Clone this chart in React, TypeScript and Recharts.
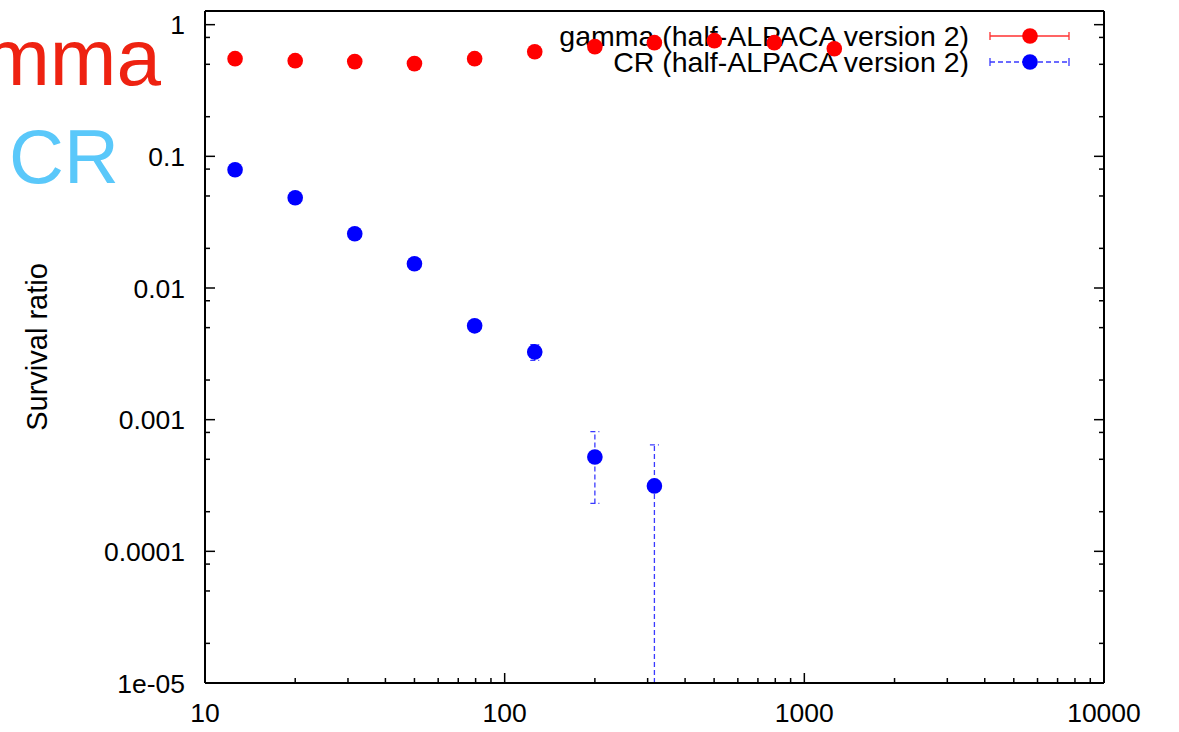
import React from 'react';
import { ScatterChart, Scatter, XAxis, YAxis, ErrorBar, Legend } from 'recharts';

// values
const gammaEnergy = [12.6, 20, 31.6, 50, 79.4, 126, 200, 316, 501, 794, 1259];
const gammaRatio = [0.552, 0.533, 0.524, 0.506, 0.552, 0.623, 0.681, 0.73, 0.756, 0.73, 0.657];

const crEnergy = [12.6, 20, 31.6, 50, 79.4, 126, 200, 316];
const crRatio = [0.0791, 0.0485, 0.0258, 0.0153, 0.00516, 0.00327, 0.000521, 0.000314];
const crError = [0.001, 0.0006, 0.0004, 0.0003, 0.0002, 0.00045, 0.00029, 0.00033];

const xMajorTicks = [10, 100, 1000, 10000];
const xMinorSteps = [2, 3, 4, 5, 6, 7, 8, 9];
const yMajorTicks = [1e-5, 1e-4, 0.001, 0.01, 0.1, 1];
const yTickLabels = ['1e-05', '0.0001', '0.001', '0.01', '0.1', '1'];
const yMinorSteps = [2, 5, 8];

const seriesNames = ['gamma (half-ALPACA version 2)', 'CR (half-ALPACA version 2)'];

const W = 1179;
const H = 732;
const PLOT_LEFT = 205;
const PLOT_RIGHT = 1104;
const PLOT_TOP = 11;
const PLOT_BOTTOM = 683;
const Y_MIN = 1e-5;
const Y_MAX = 1.27;
const FONT = '"Liberation Sans", Arial, Helvetica, sans-serif';

const xTicks = [
  ...xMajorTicks,
  ...xMajorTicks.slice(0, -1).flatMap(m => xMinorSteps.map(s => m * s)),
];
const yTicks = [
  ...yMajorTicks,
  ...yMajorTicks.flatMap(m => yMinorSteps.map(s => m * s)).filter(v => v < Y_MAX),
];

const gammaData = gammaEnergy.map((x, i) => ({ x, y: gammaRatio[i] }));
const crData = crEnergy.map((x, i) => ({
  x,
  y: crRatio[i],
  // lower end is clipped at the axis floor
  err: [Math.min(crError[i], crRatio[i] - Y_MIN), crError[i]],
}));

const MAJOR = 10;
const MINOR = 5;

function BottomTick(props: any) {
  const { x, payload } = props;
  const major = xMajorTicks.includes(payload.value);
  return (
    <g>
      <line x1={x} x2={x} y1={PLOT_BOTTOM} y2={PLOT_BOTTOM - (major ? MAJOR : MINOR)} stroke="#000" strokeWidth={1.5} />
      {major && (
        <text x={x} y={PLOT_BOTTOM + 38.5} textAnchor="middle" fontSize={26.5} fontFamily={FONT} fill="#000">
          {payload.value}
        </text>
      )}
    </g>
  );
}

function TopTick(props: any) {
  const { x, payload } = props;
  const major = xMajorTicks.includes(payload.value);
  return <line x1={x} x2={x} y1={PLOT_TOP} y2={PLOT_TOP + (major ? MAJOR : MINOR)} stroke="#000" strokeWidth={1.5} />;
}

function LeftTick(props: any) {
  const { y, payload } = props;
  const idx = yMajorTicks.indexOf(payload.value);
  const major = idx >= 0;
  return (
    <g>
      <line x1={PLOT_LEFT} x2={PLOT_LEFT + (major ? MAJOR : MINOR)} y1={y} y2={y} stroke="#000" strokeWidth={1.5} />
      {major && (
        <text x={185} y={y + 9.5} textAnchor="end" fontSize={26.5} fontFamily={FONT} fill="#000">
          {yTickLabels[idx]}
        </text>
      )}
    </g>
  );
}

function RightTick(props: any) {
  const { y, payload } = props;
  const major = yMajorTicks.includes(payload.value);
  return <line x1={PLOT_RIGHT} x2={PLOT_RIGHT - (major ? MAJOR : MINOR)} y1={y} y2={y} stroke="#000" strokeWidth={1.5} />;
}

const Dot = (color: string) => (p: any) => <circle cx={p.cx} cy={p.cy} r={7.8} fill={color} />;

function LegendBox() {
  const rows = [
    { name: seriesNames[0], color: '#ff0000', bar: '#ff3030', dash: undefined },
    { name: seriesNames[1], color: '#0000ff', bar: '#3a3aff', dash: '5 3' },
  ];
  return (
    <svg width={560} height={56}>
      {rows.map((r, i) => {
        const cy = 15 + i * 26;
        return (
          <g key={r.name}>
            <text x={429} y={cy + 10} textAnchor="end" fontSize={28.5} fontFamily={FONT} fill="#000">
              {r.name}
            </text>
            <line x1={450} x2={529} y1={cy} y2={cy} stroke={r.bar} strokeWidth={1.3} strokeDasharray={r.dash} />
            <line x1={450} x2={450} y1={cy - 4} y2={cy + 4} stroke={r.bar} strokeWidth={1.3} />
            <line x1={529} x2={529} y1={cy - 4} y2={cy + 4} stroke={r.bar} strokeWidth={1.3} />
            <circle cx={490} cy={cy} r={7.8} fill={r.color} />
          </g>
        );
      })}
    </svg>
  );
}

export default function App() {
  return (
    <div style={{ position: 'absolute', left: 0, top: 0, width: W, height: H, background: '#fff', zIndex: 0 }}>
      <ScatterChart width={W} height={H} margin={{ top: 0, right: 0, bottom: 0, left: 0 }}>
        <XAxis
          dataKey="x"
          type="number"
          scale="log"
          domain={[10, 10000]}
          allowDataOverflow
          ticks={xTicks}
          interval={0}
          height={H - PLOT_BOTTOM}
          axisLine={{ stroke: '#000', strokeWidth: 2 }}
          tickLine={false}
          tick={BottomTick}
        />
        <XAxis
          xAxisId="top"
          orientation="top"
          type="number"
          scale="log"
          domain={[10, 10000]}
          allowDataOverflow
          ticks={xTicks}
          interval={0}
          height={PLOT_TOP}
          axisLine={{ stroke: '#000', strokeWidth: 2 }}
          tickLine={false}
          tick={TopTick}
        />
        <YAxis
          dataKey="y"
          type="number"
          scale="log"
          domain={[Y_MIN, Y_MAX]}
          allowDataOverflow
          ticks={yTicks}
          interval={0}
          width={PLOT_LEFT}
          axisLine={{ stroke: '#000', strokeWidth: 2 }}
          tickLine={false}
          tick={LeftTick}
          label={{
            content: (p: any) => {
              const vb = p.viewBox || { y: PLOT_TOP, height: PLOT_BOTTOM - PLOT_TOP };
              const cy = vb.y + vb.height / 2;
              return (
                <text
                  x={47}
                  y={cy}
                  transform={`rotate(-90 47 ${cy})`}
                  textAnchor="middle"
                  fontSize={29}
                  fontFamily={FONT}
                  fill="#000"
                >
                  Survival ratio
                </text>
              );
            },
          }}
        />
        <YAxis
          yAxisId="right"
          orientation="right"
          type="number"
          scale="log"
          domain={[Y_MIN, Y_MAX]}
          allowDataOverflow
          ticks={yTicks}
          interval={0}
          width={W - PLOT_RIGHT}
          axisLine={{ stroke: '#000', strokeWidth: 2 }}
          tickLine={false}
          tick={RightTick}
        />
        <Legend
          layout="horizontal"
          verticalAlign="middle"
          align="center"
          content={() => <LegendBox />}
          wrapperStyle={{ position: 'absolute', top: 21, left: 540, width: 560, height: 56, zIndex: -1 }}
        />
        <Scatter name={seriesNames[0]} data={gammaData} fill="#ff0000" shape={Dot('#ff0000')} isAnimationActive={false} />
        <Scatter name={seriesNames[1]} data={crData} fill="#0000ff" shape={Dot('#0000ff')} isAnimationActive={false}>
          <ErrorBar dataKey="err" direction="y" width={4.5} stroke="#3a3aff" strokeWidth={1.3} strokeDasharray="5 3" />
        </Scatter>
      </ScatterChart>
      <svg width={200} height={220} style={{ position: 'absolute', left: 0, top: 0, pointerEvents: 'none' }}>
        <text x={161} y={85} textAnchor="end" fontSize={80} fontFamily={FONT} fill="#ee2211">
          mma
        </text>
        <text x={9} y={183} fontSize={76} fontFamily={FONT} fill="#5ac8fa">
          CR
        </text>
      </svg>
    </div>
  );
}
